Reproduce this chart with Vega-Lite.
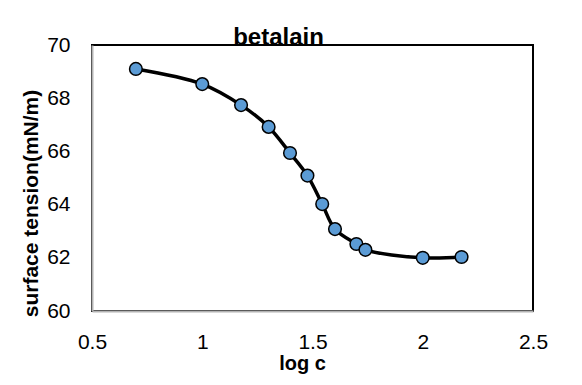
{
  "$schema": "https://vega.github.io/schema/vega-lite/v6.json",
  "width": 441,
  "height": 266,
  "autosize": {"type": "none"},
  "padding": {"left": 92, "top": 45, "right": 49, "bottom": 74},
  "background": "white",
  "title": {
    "text": "betalain",
    "font": "Liberation Sans",
    "fontSize": 24,
    "fontWeight": "bold",
    "color": "#000000",
    "anchor": "middle",
    "dx": -34,
    "dy": 37,
    "offset": 2,
    "baseline": "alphabetic"
  },
  "config": {
    "view": {"stroke": "#000000", "strokeWidth": 2},
    "axis": {
      "grid": false,
      "ticks": false,
      "tickSize": 0,
      "labelFlush": false,
      "domainColor": "#b3b3b3",
      "domainWidth": 2,
      "labelFont": "Liberation Sans",
      "labelFontSize": 21,
      "labelColor": "#000000",
      "titleFont": "Liberation Sans",
      "titleFontWeight": "bold",
      "titleColor": "#000000"
    }
  },
  "data": {
    "values": [
      {"logc": 0.699, "st": 69.1},
      {"logc": 1.0, "st": 68.53},
      {"logc": 1.176, "st": 67.74},
      {"logc": 1.301, "st": 66.92},
      {"logc": 1.398, "st": 65.94},
      {"logc": 1.477, "st": 65.09},
      {"logc": 1.544, "st": 64.02},
      {"logc": 1.602, "st": 63.08},
      {"logc": 1.699, "st": 62.52},
      {"logc": 1.740, "st": 62.3},
      {"logc": 2.0, "st": 62.0},
      {"logc": 2.176, "st": 62.03}
    ]
  },
  "encoding": {
    "x": {
      "field": "logc",
      "type": "quantitative",
      "scale": {"domain": [0.5, 2.5], "nice": false, "zero": false},
      "axis": {
        "values": [0.5, 1, 1.5, 2, 2.5],
        "labelExpr": "datum.value",
        "labelPadding": 20,
        "title": "log c",
        "titleFontSize": 20,
        "titleX": 210,
        "titleY": 58,
        "titleBaseline": "alphabetic",
        "titleAnchor": "middle"
      }
    },
    "y": {
      "field": "st",
      "type": "quantitative",
      "scale": {"domain": [60, 70], "nice": false, "zero": false},
      "axis": {
        "values": [60, 62, 64, 66, 68, 70],
        "labelPadding": 22,
        "title": "surface tension(mN/m)",
        "titleFontSize": 21,
        "titleX": -55,
        "titleY": 158,
        "titleAngle": -90,
        "titleBaseline": "alphabetic",
        "titleAnchor": "middle",
        "titleAlign": "center"
      }
    }
  },
  "layer": [
    {"mark": {"type": "line", "interpolate": "catmull-rom", "color": "#000000", "strokeWidth": 3.5}},
    {"mark": {"type": "point", "shape": "circle", "filled": true, "fill": "#5B9BD5", "stroke": "#000000", "strokeWidth": 1.5, "size": 160, "opacity": 1}}
  ]
}
